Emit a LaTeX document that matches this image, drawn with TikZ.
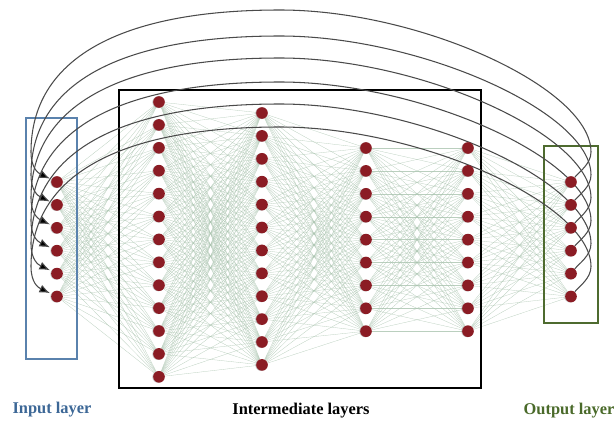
\documentclass[tikz,border=0pt]{standalone}
\usepackage{fontspec}
\setmainfont{Liberation Serif}
\usepackage{tikz}
\usetikzlibrary{arrows.meta,calc,backgrounds,shadows}
\definecolor{nodered}{HTML}{8B1C24}
\definecolor{linkgreen}{HTML}{A9C3AE}
\definecolor{arcgray}{HTML}{4A4A4A}
\definecolor{inblue}{HTML}{5A82AD}
\definecolor{intxt}{HTML}{3C6796}
\definecolor{outgreen}{HTML}{4E6B2F}
\definecolor{outtxt}{HTML}{4A6A2A}

\begin{document}
\begin{tikzpicture}[x=0.03cm, y=-0.03cm, neuron/.style={circle,fill=nodered,inner sep=0pt,minimum size=0.35cm,drop shadow={shadow xshift=-0.7pt,shadow yshift=-0.2pt,opacity=.45,fill=gray}}, link/.style={draw=linkgreen,line width=.25pt,opacity=.8}, feedback/.style={draw=arcgray,line width=.9pt,-{Latex[length=9pt,width=7pt,fill=black]},shorten >=1.5pt}, inbox/.style={draw=inblue,line width=1.3pt}, midbox/.style={draw=black,line width=1.8pt}, outbox/.style={draw=outgreen,line width=1.5pt}, lbl/.style={font=\fontsize{14}{16}\selectfont\bfseries}]
\useasboundingbox (0,0) rectangle (614,421);
% neurons, layer by layer
\foreach \l/\x/\n/\yt in {0/57/6/182,1/159/13/102,2/262/12/113,3/366/9/148,4/468/9/148,5/571/6/182}{
  \foreach \i in {1,...,\n}{\node[neuron] (L\l-\i) at (\x,{\yt+(\i-1)*22.9}) {};}
}
\begin{scope}[on background layer]
% dense links between neighbouring layers
\foreach \a/\b/\na/\nb in {0/1/6/13,1/2/13/12,2/3/12/9,3/4/9/9,4/5/9/6}{
  \foreach \i in {1,...,\na}{\foreach \j in {1,...,\nb}{\draw[link] (L\a-\i) -- (L\b-\j);}}
}
% layer frames
\draw[inbox] (26,118) rectangle (77,359);
\draw[midbox] (119,90) rectangle (481,388);
\draw[outbox] (544,146) rectangle (598,323);
% feedback arcs output -> input
\foreach \k/\yp in {1/10,2/36,3/58,4/82,5/104,6/127}{
  \pgfmathsetmacro\yn{182+(\k-1)*22.9}
  \pgfmathsetmacro\yb{\yn-30}
  \pgfmathsetmacro\yR{\yb-0.45*(\yb-\yp)}
  \pgfmathsetmacro\yL{\yb-0.65*(\yb-\yp)}
  \draw[feedback] (L5-\k) .. controls (579,\yn-10) and (591,\yn-18) .. (591,\yb)
    .. controls (591,\yR) and (420,\yp) .. (280,\yp)
    .. controls (118,\yp) and (31,\yL) .. (31,\yb)
    .. controls (31,\yn-14) and (38,\yn-9) .. (L0-\k);
}
\end{scope}
% captions
\node[lbl,text=intxt] (capin) at (52,410) {Input layer};
\node[lbl] (capmid) at (301,411) {Intermediate layers};
\node[lbl,text=outtxt] (capout) at (569,411) {Output layer};
\end{tikzpicture}
\end{document}
